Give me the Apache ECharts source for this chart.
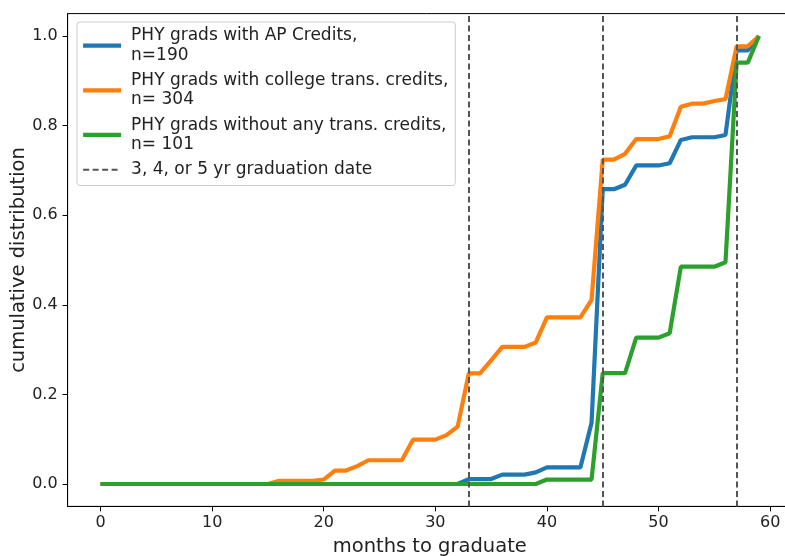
<!DOCTYPE html>
<html>
<head>
<meta charset="utf-8">
<script src="https://cdn.jsdelivr.net/npm/echarts@6/dist/echarts.min.js"></script>
<style>
  html, body { margin: 0; padding: 0; background: #fff; }
  #chart { width: 785px; height: 556px; }
</style>
</head>
<body>
<div id="chart"></div>
<script>
// months since start (x values)
const months = [
  0, 1, 2, 3, 4, 5, 6, 7, 8, 9, 10, 11, 12, 13, 14, 15, 16, 17, 18, 19,
  20, 21, 22, 23, 24, 25, 26, 27, 28, 29, 30, 31, 32, 33, 34, 35, 36, 37, 38, 39,
  40, 41, 42, 43, 44, 45, 46, 47, 48, 49, 50, 51, 52, 53, 54, 55, 56, 57, 58, 59,
];

// cumulative share graduated
const apCredits = [
  0, 0, 0, 0, 0, 0, 0, 0, 0, 0, 0, 0, 0, 0, 0, 0, 0, 0, 0, 0,
  0, 0, 0, 0, 0, 0, 0, 0, 0, 0, 0, 0, 0, 0.011, 0.011, 0.011, 0.021, 0.021, 0.021, 0.026,
  0.037, 0.037, 0.037, 0.037, 0.137, 0.658, 0.658, 0.668, 0.711, 0.711, 0.711, 0.716, 0.768, 0.774, 0.774, 0.774, 0.779, 0.968, 0.968, 1.0,
];
const collegeCredits = [
  0, 0, 0, 0, 0, 0, 0, 0, 0, 0, 0, 0, 0, 0, 0, 0, 0.007, 0.007, 0.007, 0.007,
  0.010, 0.030, 0.030, 0.040, 0.053, 0.053, 0.053, 0.053, 0.099, 0.099, 0.099, 0.109, 0.128, 0.247, 0.247, 0.276, 0.306, 0.306, 0.306, 0.316,
  0.372, 0.372, 0.372, 0.372, 0.411, 0.724, 0.724, 0.737, 0.770, 0.770, 0.770, 0.776, 0.842, 0.849, 0.849, 0.855, 0.859, 0.977, 0.977, 1.0,
];
const noCredits = [
  0, 0, 0, 0, 0, 0, 0, 0, 0, 0, 0, 0, 0, 0, 0, 0, 0, 0, 0, 0,
  0, 0, 0, 0, 0, 0, 0, 0, 0, 0, 0, 0, 0, 0, 0, 0, 0, 0, 0, 0,
  0.0099, 0.0099, 0.0099, 0.0099, 0.0099, 0.2475, 0.2475, 0.2475, 0.3267, 0.3267, 0.3267, 0.3366, 0.4851, 0.4851, 0.4851, 0.4851, 0.4950, 0.9406, 0.9406, 1.0,
];

// 3, 4 and 5 year marks
const gradDates = [33, 45, 57];

const xTicks = [0, 10, 20, 30, 40, 50, 60];
const yTicks = [0, 0.2, 0.4, 0.6, 0.8, 1.0];

const seriesNames = [
  'PHY grads with AP Credits,\nn=190',
  'PHY grads with college trans. credits,\nn= 304',
  'PHY grads without any trans. credits,\nn= 101',
  '3, 4, or 5 yr graduation date',
];
const colors = ['#1f77b4', '#ff7f0e', '#2ca02c', '#555555'];

const FONT = 'DejaVu Sans';
const DASH = [6, 3.5];
const pairs = (ys) => months.map((m, i) => [m, ys[i]]);

const chart = echarts.init(document.getElementById('chart'), null, { renderer: 'canvas' });

const lineSeries = (name, ys, color) => ({
  name,
  type: 'line',
  data: pairs(ys),
  symbol: 'none',
  color,
  lineStyle: { width: 4.2, color },
  animation: false,
});

// legend entries: plain line icon, hide the symbol dot
const legendItem = (name, lineStyle) => ({
  name,
  itemStyle: { opacity: 0 },
  lineStyle,
});

const option = {
  backgroundColor: '#fff',
  animation: false,
  grid: {
    left: 67.6,
    right: -6.9,
    top: 13.6,
    bottom: 49.6,
    outerBoundsMode: 'none',
    containLabel: false,
    show: true,
    borderColor: '#000',
    borderWidth: 1,
  },
  legend: {
    orient: 'vertical',
    left: 77,
    top: 22,
    padding: [4.4, 7, 6, 4],
    itemGap: 6,
    itemWidth: 38,
    itemHeight: 6,
    backgroundColor: 'rgba(255,255,255,0.85)',
    borderColor: '#cccccc',
    borderWidth: 1,
    borderRadius: 3,
    textStyle: {
      fontFamily: FONT,
      fontSize: 17,
      lineHeight: 19.3,
      color: '#222',
      padding: [0, 0, 0, 5],
    },
    data: [
      legendItem(seriesNames[0], { width: 4.2, color: colors[0] }),
      legendItem(seriesNames[1], { width: 4.2, color: colors[1] }),
      legendItem(seriesNames[2], { width: 4.2, color: colors[2] }),
      legendItem(seriesNames[3], { width: 2, type: DASH, color: colors[3] }),
    ],
  },
  xAxis: {
    type: 'value',
    min: -2.95,
    max: 61.95,
    name: 'months to graduate',
    nameLocation: 'middle',
    nameGap: 31,
    nameMoveOverlap: false,
    nameTextStyle: { fontFamily: FONT, fontSize: 19.5, color: '#222' },
    splitLine: { show: false },
    axisLine: { show: true, onZero: false, lineStyle: { color: '#000', width: 1 } },
    axisTick: { show: true, length: 5, customValues: xTicks, lineStyle: { color: '#000' } },
    axisLabel: {
      customValues: xTicks,
      margin: 8,
      fontFamily: FONT,
      fontSize: 16,
      color: '#222',
    },
  },
  yAxis: {
    type: 'value',
    min: -0.05,
    max: 1.05,
    name: 'cumulative distribution',
    nameLocation: 'middle',
    nameGap: 39,
    nameMoveOverlap: false,
    nameTextStyle: { fontFamily: FONT, fontSize: 19.5, color: '#222' },
    splitLine: { show: false },
    axisLine: { show: true, onZero: false, lineStyle: { color: '#000', width: 1 } },
    axisTick: { show: true, length: 5, customValues: yTicks, lineStyle: { color: '#000' } },
    axisLabel: {
      customValues: yTicks,
      margin: 10,
      fontFamily: FONT,
      fontSize: 16,
      color: '#222',
      formatter: (v) => v.toFixed(1),
    },
  },
  series: [
    lineSeries(seriesNames[0], apCredits, colors[0]),
    lineSeries(seriesNames[1], collegeCredits, colors[1]),
    lineSeries(seriesNames[2], noCredits, colors[2]),
    {
      name: seriesNames[3],
      type: 'line',
      data: [],
      symbol: 'none',
      color: colors[3],
      lineStyle: { width: 2, type: DASH, color: colors[3] },
      z: 5,
      markLine: {
        silent: true,
        symbol: 'none',
        animation: false,
        label: { show: false },
        lineStyle: { width: 2, type: DASH, color: colors[3] },
        data: gradDates.map((d) => ({ xAxis: d })),
      },
    },
  ],
};

chart.setOption(option);
</script>
</body>
</html>
